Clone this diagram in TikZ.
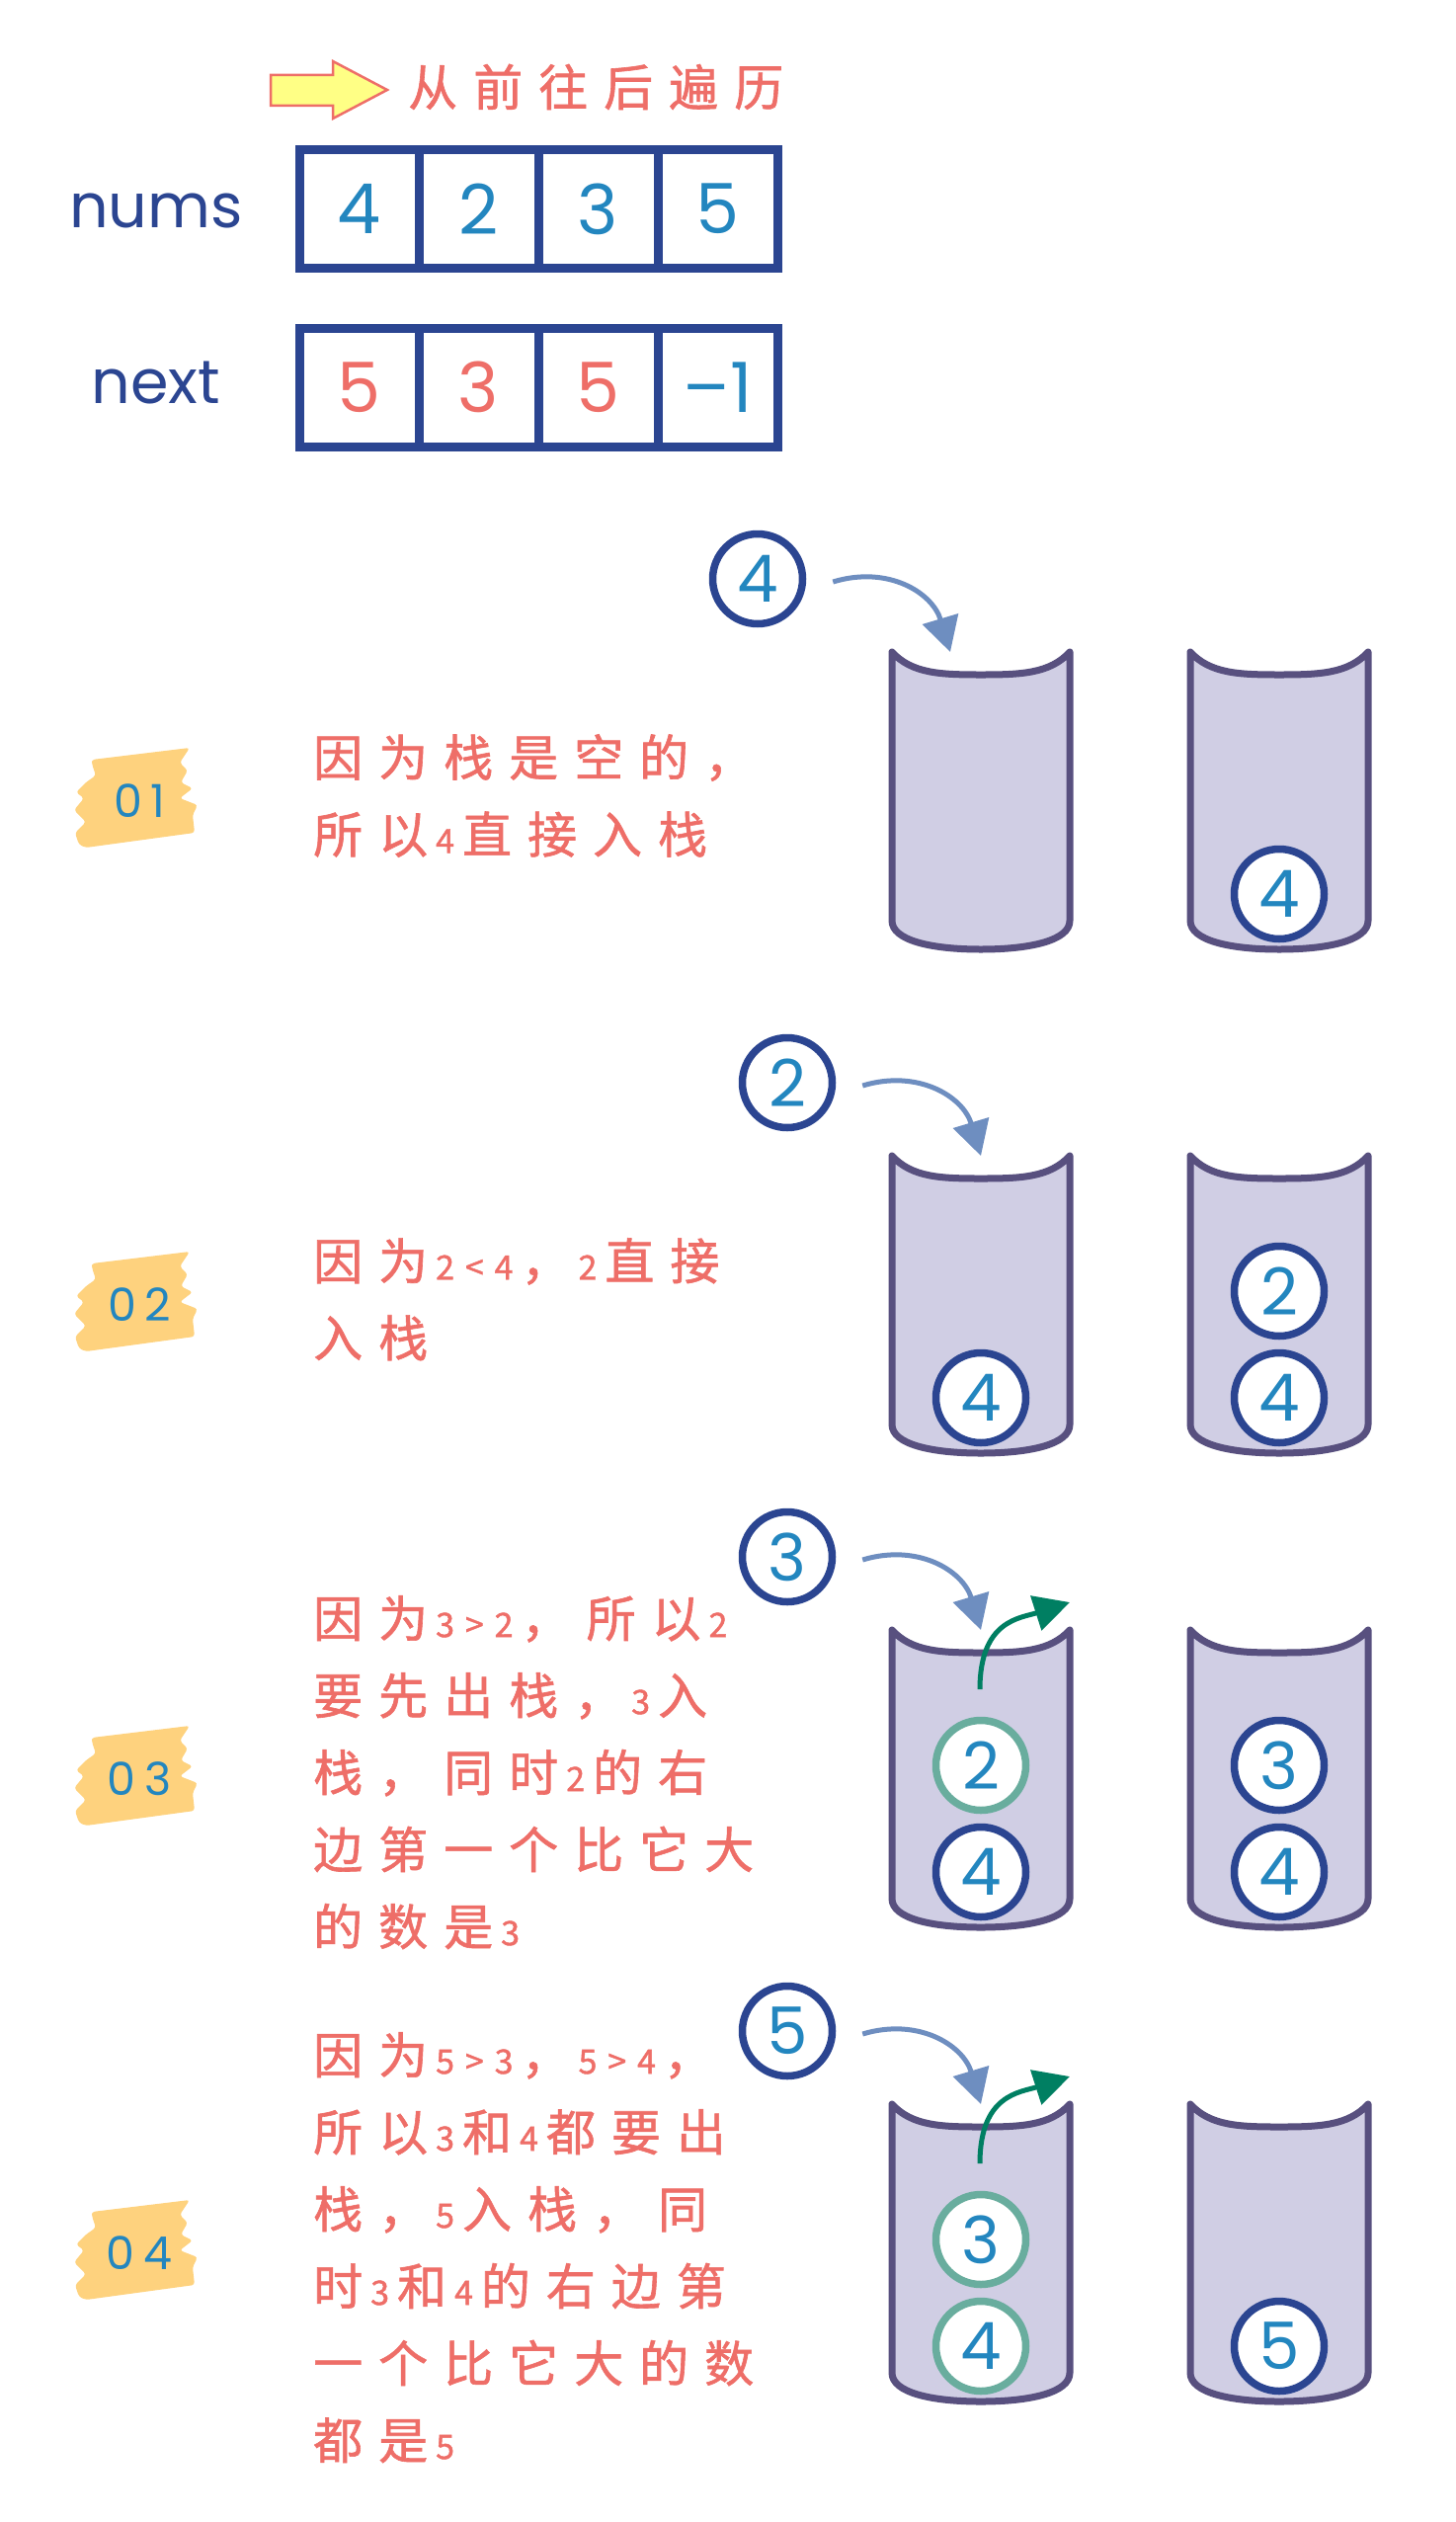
\documentclass[tikz,border=0pt]{standalone}
\usepackage{fontspec}
\setmainfont{Poppins}
\newfontfamily\hanfont[LetterSpace=32, FakeBold=1.2]{Noto Sans CJK SC}
\newfontfamily\tagfont[LetterSpace=18]{Poppins}
\usetikzlibrary{arrows.meta}

\definecolor{navy}{HTML}{2B4591}
\definecolor{digitblue}{HTML}{2386BF}
\definecolor{notered}{HTML}{EE6E68}
\definecolor{cupfill}{HTML}{D0CEE4}
\definecolor{cupline}{HTML}{58507F}
\definecolor{pushblue}{HTML}{6E8EC0}
\definecolor{popgreen}{HTML}{007F62}
\definecolor{popring}{HTML}{69AD9E}
\definecolor{tagyellow}{HTML}{FED27E}
\definecolor{arrowfill}{HTML}{FFFF85}

% small digits inside the Chinese notes
\newcommand\digs[1]{\hspace{8pt}{\fontsize{34pt}{78pt}\selectfont #1}\hspace{8pt}}

\begin{document}
\begin{tikzpicture}[x=1pt, y=-1pt,
    cellbox/.style={rectangle, draw=navy, line width=9pt, minimum width=121pt, minimum height=120pt, inner sep=0pt, font=\fontsize{70pt}{70pt}\selectfont},
    rowname/.style={text=navy, inner sep=0pt, font=\fontsize{62pt}{62pt}\selectfont},
    notetext/.style={text=notered, align=left, inner sep=0pt, font=\hanfont\fontsize{50pt}{78pt}\selectfont},
    cupbody/.style={draw=cupline, fill=cupfill, line width=7pt, line join=round},
    numball/.style={circle, draw=navy, fill=white, line width=7.5pt, minimum size=91pt, inner sep=0pt, text=digitblue, font=\fontsize{66pt}{66pt}\selectfont},
    outball/.style={numball, draw=popring},
    pusharrow/.style={-{Triangle[length=35pt, width=37pt]}, draw=pushblue, line width=5pt},
    poparrow/.style={-{Triangle[length=36pt, width=36pt]}, draw=popgreen, line width=5pt},
    tagpatch/.style={fill=tagyellow, rounded corners=3pt},
    tagtext/.style={text=digitblue, inner sep=0pt, font=\tagfont\fontsize{46pt}{46pt}\selectfont}]

    \useasboundingbox (0,0) rectangle (1473,2553);

    % Header: direction arrow and arrays
    \draw[fill=arrowfill, draw=notered, line width=2.5pt] (274,76) -- (337,76) -- (337,62) -- (392,91) -- (337,120) -- (337,107) -- (274,107) -- cycle;
    \node[notetext, anchor=west] (title) at (413,88) {从前往后遍历};

    \node[rowname, anchor=base] (numsname) at (158,230) {nums};
    \node[rowname, anchor=base] (nextname) at (158,408) {next};

    \foreach \v [count=\i] in {4,2,3,5}
        \node[cellbox, text=digitblue] (nums\i) at (242.5+121*\i,211.5) {\v};
    \foreach \v/\c [count=\i] in {5/notered,3/notered,5/notered,–1/digitblue}
        \node[cellbox, text=\c] (next\i) at (242.5+121*\i,392) {\v};

    % Stacks, two per step
    \foreach \T in {660,1170,1650,2130}
        \foreach \c in {993,1295}
            \draw[cupbody, shift={(\c,\T)}] (-90,0) -- (-90,272)
                .. controls (-90,292) and (-50,301) .. (0,301)
                .. controls (50,301) and (90,292) .. (90,272) -- (90,0)
                .. controls (70,22) and (40,23) .. (0,23)
                .. controls (-40,23) and (-70,22) .. cycle;

    % Step tags
    \foreach \y/\t in {807/01,1317/02,1797/03,2277/04} {
        \fill[tagpatch, shift={(139,\y)}] (-46,-38) -- (53,-50) -- (43,-35) -- (51,-27) -- (44,-15) -- (56,-9) -- (43,1) -- (61,8) -- (56,18) -- (58,36)
            -- (-52,51) -- (-59,48) -- (-63,36) -- (-52,25) -- (-64,13) -- (-54,1) -- (-62,-5) -- (-52,-15) -- (-42,-22) -- (-46,-34) -- cycle;
        \node[tagtext] (tag\t) at (141,\y+4) {\t};
    }

    % Step 1
    \node[notetext, anchor=north west] (note1) at (317,743) {因为栈是空的，\\所以\digs{4}直接入栈};
    \node[numball] (in1) at (767,586) {4};
    \coordinate (mouth1) at (962,660);
    \draw[pusharrow] ([shift={(27,3)}]in1.east) .. controls +(56,-17) and +(-18,-60) .. (mouth1);
    \node[numball] (s1b1) at (1295,905) {4};

    % Step 2
    \node[notetext, anchor=north west] (note2) at (317,1253) {因为\digs{2<4}，\digs{2}直接\\入栈};
    \node[numball] (in2) at (797,1096) {2};
    \coordinate (mouth2) at (993,1170);
    \draw[pusharrow] ([shift={(27,3)}]in2.east) .. controls +(56,-17) and +(-18,-60) .. (mouth2);
    \node[numball] (s2a1) at (993,1415) {4};
    \node[numball] (s2b1) at (1295,1415) {4};
    \node[numball] (s2b2) at (1295,1307) {2};

    % Step 3
    \node[notetext, anchor=north west] (note3) at (317,1615) {因为\digs{3>2}，所以\digs{2}\\要先出栈，\digs{3}入\\栈，同时\digs{2}的右\\边第一个比它大\\的数是\digs{3}};
    \node[numball] (in3) at (797,1576) {3};
    \coordinate (mouth3) at (993,1650);
    \draw[pusharrow] ([shift={(27,3)}]in3.east) .. controls +(56,-17) and +(-18,-60) .. (mouth3);
    \node[numball] (s3a1) at (993,1895) {4};
    \node[outball] (s3a2) at (993,1787) {2};
    \node[numball] (s3b1) at (1295,1895) {4};
    \node[numball] (s3b2) at (1295,1787) {3};
    \coordinate (out3s) at (992,1710);
    \coordinate (out3e) at (1083,1622);
    \draw[poparrow] (out3s) .. controls +(0,-70) and +(-50,16) .. (out3e);

    % Step 4
    \node[notetext, anchor=north west] (note4) at (317,2057) {因为\digs{5>3}，\digs{5>4}，\\所以\digs{3}和\digs{4}都要出\\栈，\digs{5}入栈，同\\时\digs{3}和\digs{4}的右边第\\一个比它大的数\\都是\digs{5}};
    \node[numball] (in4) at (797,2056) {5};
    \coordinate (mouth4) at (993,2130);
    \draw[pusharrow] ([shift={(27,3)}]in4.east) .. controls +(56,-17) and +(-18,-60) .. (mouth4);
    \node[outball] (s4a1) at (993,2375) {4};
    \node[outball] (s4a2) at (993,2267) {3};
    \node[numball] (s4b1) at (1295,2375) {5};
    \coordinate (out4s) at (992,2190);
    \coordinate (out4e) at (1083,2102);
    \draw[poparrow] (out4s) .. controls +(0,-70) and +(-50,16) .. (out4e);

\end{tikzpicture}
\end{document}
